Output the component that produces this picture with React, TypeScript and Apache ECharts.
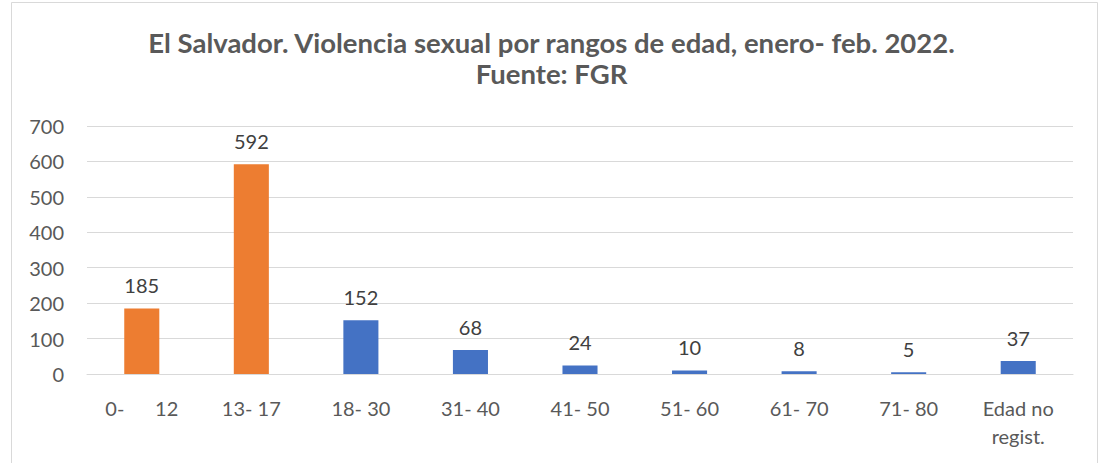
import React, { useEffect, useRef } from "react";
import * as echarts from "echarts";

const categories = ["0-      12", "13- 17", "18- 30", "31- 40", "41- 50", "51- 60", "61- 70", "71- 80", "Edad no\nregist."];
const values = [185, 592, 152, 68, 24, 10, 8, 5, 37];
const barColors = ["#ED7D31", "#ED7D31", "#4472C4", "#4472C4", "#4472C4", "#4472C4", "#4472C4", "#4472C4", "#4472C4"];
const titleText = "El Salvador. Violencia sexual por rangos de edad, enero- feb. 2022.\nFuente: FGR";

export default function App() {
  const ref = useRef<HTMLDivElement>(null);
  useEffect(() => {
    if (!ref.current) return;
    const chart = echarts.init(ref.current, null, { renderer: "svg" });
    const font = "Lato, 'Open Sans', sans-serif";
    chart.setOption({
      animation: false,
      backgroundColor: "#ffffff",
      textStyle: { fontFamily: font },
      graphic: [
        {
          type: "rect",
          shape: { x: 11.5, y: 2.5, width: 1086, height: 470 },
          style: { fill: "none", stroke: "#d9d9d9", lineWidth: 1 },
          silent: true,
          z: -1,
        },
      ],
      title: {
        text: titleText,
        left: "center",
        top: 22,
        textStyle: {
          fontFamily: font,
          fontSize: 27.5,
          fontWeight: "bold",
          color: "#595959",
          lineHeight: 31,
        },
      },
      grid: { left: 87, right: 30, top: 126, bottom: 89, containLabel: false },
      xAxis: {
        type: "category",
        data: categories,
        axisLine: { lineStyle: { color: "#d9d9d9", width: 1 } },
        axisTick: { show: false },
        axisLabel: {
          color: "#595959",
          fontSize: 20,
          fontFamily: font,
          margin: 20,
          lineHeight: 28,
          interval: 0,
        },
      },
      yAxis: {
        type: "value",
        min: 0,
        max: 700,
        interval: 100,
        axisLine: { show: false },
        axisTick: { show: false },
        splitLine: { lineStyle: { color: "#d9d9d9", width: 1 } },
        axisLabel: { color: "#595959", fontSize: 20, fontFamily: font, margin: 23 },
      },
      series: [
        {
          type: "bar",
          data: values.map((v, i) => ({ value: v, itemStyle: { color: barColors[i] } })),
          barWidth: "32%",
          label: {
            show: true,
            position: "top",
            distance: 13,
            color: "#404040",
            fontSize: 20,
            fontFamily: font,
          },
        },
      ],
    });
    return () => chart.dispose();
  }, []);
  return (
    <div
      ref={ref}
      style={{ position: "absolute", left: 0, top: 0, width: 1103, height: 463 }}
    />
  );
}
